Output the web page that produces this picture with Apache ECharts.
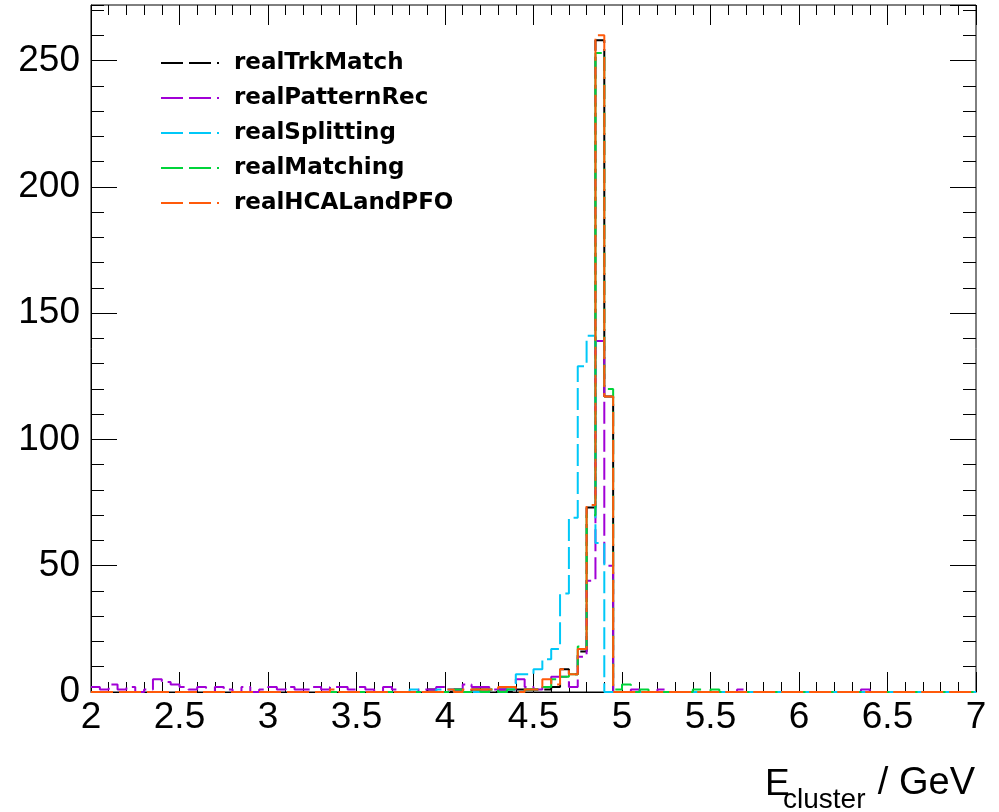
<!DOCTYPE html>
<html>
<head>
<meta charset="utf-8">
<script src="https://cdn.jsdelivr.net/npm/echarts@6/dist/echarts.min.js"></script>
<style>
  html, body { margin: 0; padding: 0; background: #fff; }
  #chart { width: 999px; height: 812px; }
</style>
</head>
<body>
<div id="chart"></div>
<script>
// histogram binning: 100 bins of 0.05 GeV between 2 and 7
const xMin = 2
const xMax = 7
const nBins = 100
const binWidth = 0.05
const yMax = 272

const seriesNames = ['realTrkMatch', 'realPatternRec', 'realSplitting', 'realMatching', 'realHCALandPFO']
const seriesColors = ['#000000', '#a100d6', '#00c8f8', '#00d43a', '#ff5a0a']

// bin contents (bin 0 = 2.00-2.05 GeV)
const trkMatch = [
  0, 0, 0, 0, 0, 0, 0, 0, 0, 0,
  0, 0, 0, 0, 0, 0, 0, 0, 0, 0,
  0, 0, 0, 0, 0, 0, 0, 0, 0, 0,
  0, 0, 0, 0, 0, 0, 0, 0, 1, 0,
  0, 1, 0, 1, 1, 0, 1, 0, 1, 1,
  1, 1, 2, 9, 7, 16, 73, 258, 117, 0,
  0, 0, 0, 0, 0, 0, 0, 0, 0, 0,
  0, 0, 0, 0, 0, 0, 0, 0, 0, 0,
  0, 0, 0, 0, 0, 0, 0, 0, 0, 0,
  0, 0, 0, 0, 0, 0, 0, 0, 0, 0
]
const patternRec = [
  2, 1, 3, 1, 2, 0, 1, 5, 4, 3,
  2, 1, 2, 0, 2, 1, 0, 2, 0, 1,
  2, 1, 2, 1, 1, 2, 1, 2, 2, 1,
  2, 1, 0, 2, 1, 0, 0, 1, 1, 2,
  1, 1, 3, 2, 2, 1, 1, 1, 5, 2,
  1, 2, 6, 6, 2, 14, 44, 139, 50, 0,
  0, 1, 0, 0, 1, 0, 0, 0, 0, 0,
  0, 0, 0, 1, 0, 0, 0, 0, 0, 0,
  0, 0, 0, 0, 0, 0, 0, 1, 0, 0,
  0, 0, 0, 0, 0, 0, 0, 0, 0, 0
]
const splitting = [
  0, 0, 0, 0, 0, 0, 0, 0, 0, 0,
  0, 0, 0, 0, 0, 0, 0, 0, 0, 0,
  0, 0, 0, 0, 0, 0, 0, 0, 0, 0,
  0, 0, 0, 0, 0, 0, 1, 0, 0, 1,
  1, 0, 0, 0, 0, 1, 0, 1, 7, 7,
  9, 13, 17, 39, 69, 129, 141, 59, 0, 0,
  0, 0, 0, 0, 0, 0, 0, 0, 0, 0,
  0, 0, 0, 0, 0, 0, 0, 0, 0, 0,
  0, 0, 0, 0, 0, 0, 0, 0, 0, 0,
  0, 0, 0, 0, 0, 0, 0, 0, 0, 0
]
const matching = [
  0, 0, 0, 0, 0, 0, 0, 0, 0, 0,
  0, 0, 0, 0, 0, 0, 0, 0, 0, 0,
  0, 0, 0, 0, 0, 0, 0, 0, 0, 0,
  0, 0, 0, 0, 0, 0, 0, 0, 0, 0,
  0, 1, 0, 1, 0, 1, 0, 1, 0, 1,
  1, 2, 5, 6, 7, 18, 70, 253, 120, 1,
  3, 0, 1, 0, 0, 0, 0, 0, 1, 0,
  1, 0, 0, 0, 0, 0, 0, 0, 0, 0,
  0, 0, 0, 0, 0, 0, 0, 0, 0, 0,
  0, 0, 0, 0, 0, 0, 0, 0, 0, 0
]
const hcalPfo = [
  0, 0, 0, 0, 0, 0, 0, 0, 0, 0,
  0, 0, 0, 0, 0, 0, 0, 0, 0, 0,
  0, 0, 0, 0, 0, 0, 0, 1, 0, 0,
  0, 0, 0, 0, 0, 0, 0, 0, 0, 0,
  1, 0, 1, 1, 1, 1, 2, 2, 0, 1,
  1, 5, 3, 9, 7, 17, 74, 260, 117, 0,
  0, 0, 0, 0, 0, 0, 0, 0, 0, 0,
  0, 0, 0, 0, 0, 0, 0, 0, 0, 0,
  0, 0, 0, 0, 0, 0, 0, 0, 0, 0,
  0, 0, 0, 0, 0, 0, 0, 0, 0, 0
]
const seriesValues = [trkMatch, patternRec, splitting, matching, hcalPfo]

const binEdges = Array.from({ length: nBins + 1 }, (_, i) => +(xMin + i * binWidth).toFixed(2))

// left edge + value per bin, closing point at the last edge (step: 'end')
const toSteps = vals => {
  const pts = vals.map((v, i) => [binEdges[i], v])
  pts.push([binEdges[nBins], vals[nBins - 1]])
  return pts
}

const numFont = 'Liberation Sans, Arial, sans-serif'

const xAxisDef = (position, interval, len, labels) => ({
  type: 'value',
  min: xMin,
  max: xMax,
  interval: interval,
  position: position,
  axisLine: { show: labels, onZero: false, lineStyle: { color: '#000', width: 1 } },
  axisTick: { show: true, inside: true, length: len, lineStyle: { color: '#000', width: 1 } },
  axisLabel: { show: labels, margin: 7, color: '#000', fontSize: 37, fontFamily: numFont },
  splitLine: { show: false }
})

const yAxisDef = (position, interval, len, labels) => ({
  type: 'value',
  min: 0,
  max: yMax,
  interval: interval,
  position: position,
  axisLine: { show: labels, onZero: false, lineStyle: { color: '#000', width: 1 } },
  axisTick: { show: true, inside: true, length: len, lineStyle: { color: '#000', width: 1 } },
  axisLabel: { show: labels, showMaxLabel: false, margin: 11, color: '#000', fontSize: 37, fontFamily: numFont },
  splitLine: { show: false }
})

const chart = echarts.init(document.getElementById('chart'), null, { renderer: 'canvas' })

const option = {
  animation: false,
  backgroundColor: '#fff',
  grid: {
    left: 91, right: 23, top: 5, bottom: 120,
    show: true, borderColor: '#000', borderWidth: 1, backgroundColor: 'transparent'
  },
  xAxis: [
    xAxisDef('bottom', 0.5, 20, true),
    xAxisDef('bottom', 0.1, 10, false),
    xAxisDef('top', 0.5, 20, false),
    xAxisDef('top', 0.1, 10, false)
  ],
  yAxis: [
    yAxisDef('left', 50, 26, true),
    yAxisDef('left', 10, 13, false),
    yAxisDef('right', 50, 26, false),
    yAxisDef('right', 10, 13, false)
  ],
  legend: {
    orient: 'vertical',
    left: 160,
    top: 51,
    padding: 0,
    itemWidth: 58,
    itemHeight: 12,
    itemGap: 11,
    selectedMode: false,
    data: seriesNames,
    itemStyle: { opacity: 0, borderWidth: 0 },
    textStyle: {
      color: '#000',
      fontFamily: 'DejaVu Sans',
      fontWeight: 'bold',
      fontSize: 23,
      lineHeight: 24,
      padding: [0, 0, 0, 10]
    }
  },
  series: seriesNames.map((name, k) => ({
    name: name,
    type: 'line',
    step: 'end',
    xAxisIndex: 0,
    yAxisIndex: 0,
    symbol: 'none',
    clip: false,
    color: seriesColors[k],
    lineStyle: { color: seriesColors[k], width: 2, type: [22, 6] },
    data: toSteps(seriesValues[k])
  })),
  graphic: [
    { type: 'text', left: 765, top: 766, style: { text: 'E', fill: '#000', font: '37px Liberation Sans, Arial, sans-serif' } },
    { type: 'text', left: 783, top: 786, style: { text: 'cluster', fill: '#000', font: '28px Liberation Sans, Arial, sans-serif' } },
    { type: 'text', right: 24, top: 765, style: { text: '/ GeV', fill: '#000', font: '38px Liberation Sans, Arial, sans-serif' } }
  ]
}

chart.setOption(option)
window.addEventListener('resize', () => chart.resize())
</script>
</body>
</html>
